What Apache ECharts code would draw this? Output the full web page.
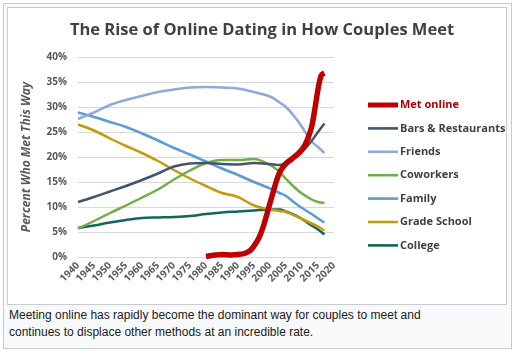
<!DOCTYPE html>
<html>
<head>
<meta charset="utf-8">
<script src="https://cdn.jsdelivr.net/npm/echarts@6/dist/echarts.min.js"></script>
<style>
	html, body { margin: 0; padding: 0; background: #fff; }
	#thumb {
		position: absolute; left: 3px; top: 3px; width: 507px; height: 344px;
		background: #f8f9fa; border: 1px solid #c8ccd1;
	}
	#frame {
		position: absolute; left: 7px; top: 7px; width: 498px; height: 296px;
		background: #fff; border: 1px solid #c8ccd1;
	}
	#caption {
		position: absolute; left: 9px; top: 307px; width: 440px;
		font-family: "Liberation Sans", Arial, sans-serif; font-size: 12px;
		line-height: 17px; color: #202122;
	}
	#chart { position: absolute; left: 0; top: 0; width: 519px; height: 354px; }
</style>
</head>
<body>
<div id="thumb"></div>
<div id="frame"></div>
<div id="caption">Meeting online has rapidly become the dominant way for couples to meet and continues to displace other methods at an incredible rate.</div>
<div id="chart"></div>
<script>
// years shared by the older ways of meeting
const years = [1940, 1945, 1950, 1955, 1960, 1965, 1970, 1975, 1980, 1985, 1990, 1995, 2000, 2003, 2005, 2008, 2010, 2013, 2015, 2017]

const friends = [27.6, 28.9, 30.4, 31.4, 32.2, 33.0, 33.5, 33.9, 34.0, 33.9, 33.7, 33.0, 32.1, 30.9, 30.0, 27.8, 26.0, 23.1, 22.0, 20.8]
const family = [28.9, 28.0, 27.0, 26.0, 24.7, 23.3, 21.8, 20.5, 19.1, 17.7, 16.4, 15.0, 13.7, 12.8, 12.2, 10.7, 9.8, 8.6, 7.7, 6.9]
const bars = [11.0, 12.0, 13.1, 14.2, 15.4, 16.7, 18.1, 18.7, 18.8, 18.6, 18.5, 18.8, 18.6, 18.4, 18.8, 19.9, 21.0, 23.2, 25.0, 26.7]
const coworkers = [5.7, 7.2, 8.8, 10.3, 11.9, 13.5, 15.5, 17.3, 18.8, 19.4, 19.4, 19.6, 18.4, 17.0, 15.6, 13.7, 12.7, 11.5, 11.0, 10.8]
const gradeSchool = [26.5, 25.3, 23.7, 22.2, 20.8, 19.2, 17.4, 15.7, 14.2, 12.8, 12.0, 10.3, 9.5, 9.2, 9.0, 8.2, 7.6, 6.7, 6.1, 5.3]
const college = [5.8, 6.3, 6.9, 7.4, 7.8, 7.9, 8.0, 8.2, 8.6, 8.9, 9.1, 9.3, 9.5, 9.5, 9.1, 8.3, 7.6, 6.3, 5.5, 4.5]

// met online has its own, denser years
const onlineYears = [1980, 1983, 1985, 1988, 1990, 1992, 1994, 1996, 1997, 1998, 1999, 2000, 2001, 2002, 2003, 2004, 2005, 2007, 2009, 2010, 2011, 2012, 2013, 2014, 2015, 2016, 2017]
const online = [0.1, 0.4, 0.5, 0.4, 0.5, 0.7, 1.4, 3.2, 4.5, 6.3, 8.5, 10.8, 13.0, 15.2, 16.9, 17.9, 18.7, 19.7, 20.8, 21.5, 22.5, 24.0, 26.0, 29.5, 33.5, 36.3, 36.8]

const yTicks = [0, 5, 10, 15, 20, 25, 30, 35, 40]

const pairs = (xs, ys) => xs.map((x, i) => [x, ys[i]])

const line = (name, xs, ys, color, width) => ({
	name: name,
	type: 'line',
	smooth: 0.35,
	showSymbol: false,
	symbol: 'none',
	lineStyle: { color: color, width: width },
	itemStyle: { color: color },
	data: pairs(xs, ys)
})

const thin = 'path://M0,0H30V2.6H0Z'
const thick = 'path://M0,0H30V5H0Z'
const legendText = { fontSize: 11, fontWeight: 'bold', color: '#404040' }

const chart = echarts.init(document.getElementById('chart'))
chart.setOption({
	animation: false,
	title: {
		text: 'The Rise of Online Dating in How Couples Meet',
		left: 257,
		textAlign: 'center',
		top: 17,
		textStyle: { fontFamily: 'Open Sans', fontSize: 16.5, fontWeight: 'bold', color: '#404040' }
	},
	legend: {
		orient: 'vertical',
		left: 363,
		top: 93,
		itemWidth: 30,
		itemHeight: 14,
		itemGap: 9.4,
		symbolKeepAspect: true,
		textStyle: Object.assign({ fontFamily: 'Open Sans', lineHeight: 14, padding: [0, 0, 0, -3] }, legendText),
		data: [
			{ name: 'Met online', icon: thick, textStyle: { color: '#b00000' } },
			{ name: 'Bars & Restaurants', icon: thin },
			{ name: 'Friends', icon: thin },
			{ name: 'Coworkers', icon: thin },
			{ name: 'Family', icon: thin },
			{ name: 'Grade School', icon: thin },
			{ name: 'College', icon: thin }
		]
	},
	grid: { left: 78, top: 57, width: 256, height: 200 },
	xAxis: {
		type: 'value',
		min: 1940,
		max: 2020,
		interval: 5,
		axisLine: { show: false },
		axisTick: { show: false },
		splitLine: { show: false },
		axisLabel: {
			rotate: 45,
			margin: 7,
			fontFamily: 'Open Sans',
			fontSize: 10,
			fontWeight: 'bold',
			color: '#595959',
			formatter: (v) => String(v)
		}
	},
	yAxis: {
		type: 'value',
		min: yTicks[0],
		max: yTicks[yTicks.length - 1],
		interval: 5,
		name: 'Percent Who Met This Way',
		nameLocation: 'middle',
		nameGap: 45,
		nameTextStyle: { fontFamily: 'Open Sans', fontSize: 12, fontWeight: 'bold', fontStyle: 'italic', color: '#595959' },
		axisLine: { show: false },
		axisTick: { show: false },
		splitLine: { lineStyle: { color: '#d9d9d9', width: 1 } },
		axisLabel: {
			margin: 11,
			fontFamily: 'Open Sans',
			fontSize: 10,
			fontWeight: 'bold',
			color: '#595959',
			formatter: (v) => v + '%'
		}
	},
	series: [
		line('College', years, college, '#12665a', 2.5),
		line('Grade School', years, gradeSchool, '#c49a0a', 2.5),
		line('Family', years, family, '#5b9bd5', 2.5),
		line('Coworkers', years, coworkers, '#70ad47', 2.5),
		line('Friends', years, friends, '#8eaadb', 2.5),
		line('Bars & Restaurants', years, bars, '#44546a', 2.5),
		line('Met online', onlineYears, online, '#c00000', 5.5)
	]
})
</script>
</body>
</html>
